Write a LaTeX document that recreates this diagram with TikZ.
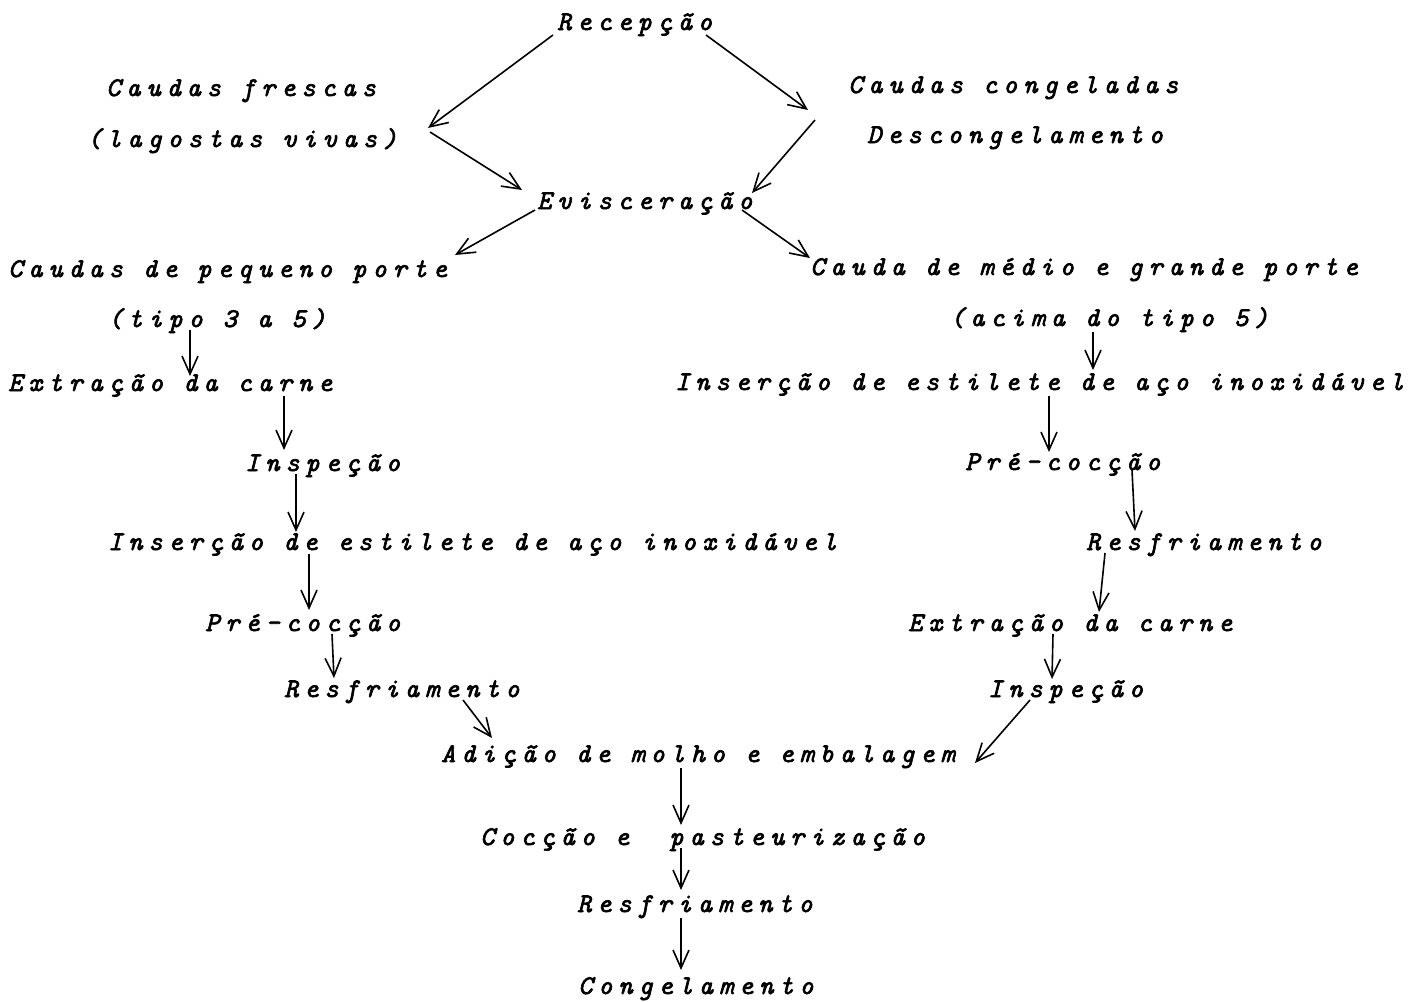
\documentclass[tikz,border=0pt]{standalone}
\usepackage{fontspec}
\usetikzlibrary{arrows.meta,calc}
\newfontfamily\twfam{lmmono10-italic.otf}[LetterSpace=22,FakeBold=2.5]
\newcommand\twfont{\twfam\fontsize{27}{32}\selectfont}
\tikzset{
  lbl/.style={inner sep=0pt, anchor=base west, font=\twfont},
  arr/.style={-{Straight Barb[length=18pt,width=16pt]}, line width=1.6pt},
}
\begin{document}
\begin{tikzpicture}[x=1pt,y=-1pt]
\useasboundingbox (0,0) rectangle (1426,1001);
\node[lbl] (rec) at (557,30) {Recepção};
\node[lbl] (fre) at (106,96) {Caudas frescas};
\node[lbl] (lag) at (87,147) {(lagostas vivas)};
\node[lbl] (con) at (848,93) {Caudas congeladas};
\node[lbl] (des) at (867,143) {Descongelamento};
\node[lbl] (evi) at (537,209) {Evisceração};
\node[lbl] (peq) at (8,277) {Caudas de pequeno porte};
\node[lbl] (tip) at (108,327) {(tipo 3 a 5)};
\node[lbl] (med) at (810,275) {Cauda de médio e grande porte};
\node[lbl] (aci) at (950,326) {(acima do tipo 5)};
\node[lbl] (extL) at (8,391) {Extração da carne};
\node[lbl] (insR) at (675,390) {Inserção de estilete de aço inoxidável};
\node[lbl] (inspL) at (245,471) {Inspeção};
\node[lbl] (preR) at (965,470) {Pré-cocção};
\node[lbl] (insL) at (108,550) {Inserção de estilete de aço inoxidável};
\node[lbl] (resR) at (1086,550) {Resfriamento};
\node[lbl] (preL) at (205,631) {Pré-cocção};
\node[lbl] (extR) at (908,631) {Extração da carne};
\node[lbl] (resL) at (284,697) {Resfriamento};
\node[lbl] (inspR) at (988,697) {Inspeção};
\node[lbl] (adi) at (441,762) {Adição de molho e embalagem};
\node[lbl] (coc) at (480,845) {Cocção e\ \ pasteurização};
\node[lbl] (res) at (577,912) {Resfriamento};
\node[lbl] (cgl) at (578,994) {Congelamento};

\draw[arr] ($(rec.base west)+(-4,5)$) -- ($(lag.base west)+(341,-19)$);
\draw[arr] ($(rec.base west)+(149,5)$) -- ($(con.base west)+(-40,17)$);
\draw[arr] ($(lag.base west)+(343,-15)$) -- ($(evi.base west)+(-15,-19)$);
\draw[arr] ($(con.base west)+(-33,27)$) -- ($(evi.base west)+(215,-16)$);
\draw[arr] ($(evi.base west)+(-2,1)$) -- ($(peq.base west)+(447,-22)$);
\draw[arr] ($(evi.base west)+(205,1)$) -- ($(med.base west)+(0,-17)$);
\draw[arr] ($(tip.base west)+(82,3)$) -- ($(extL.base west)+(182,-15)$);
\draw[arr] ($(extL.base west)+(276,5)$) -- ($(inspL.base west)+(39,-21)$);
\draw[arr] ($(inspL.base west)+(51,3)$) -- ($(insL.base west)+(188,-18)$);
\draw[arr] ($(insL.base west)+(201,4)$) -- ($(preL.base west)+(104,-21)$);
\draw[arr] ($(preL.base west)+(127,3)$) -- ($(resL.base west)+(50,-19)$);
\draw[arr] ($(resL.base west)+(179,3)$) -- ($(adi.base west)+(51,-24)$);
\draw[arr] ($(aci.base west)+(143,6)$) -- ($(insR.base west)+(418,-20)$);
\draw[arr] ($(insR.base west)+(374,6)$) -- ($(preR.base west)+(84,-18)$);
\draw[arr] ($(preR.base west)+(167,0)$) -- ($(resR.base west)+(49,-19)$);
\draw[arr] ($(resR.base west)+(19,3)$) -- ($(extR.base west)+(191,-19)$);
\draw[arr] ($(extR.base west)+(145,3)$) -- ($(inspR.base west)+(64,-18)$);
\draw[arr] ($(inspR.base west)+(42,3)$) -- ($(adi.base west)+(534,1)$);
\draw[arr] ($(adi.base west)+(240,6)$) -- ($(coc.base west)+(201,-20)$);
\draw[arr] ($(coc.base west)+(201,3)$) -- ($(res.base west)+(104,-22)$);
\draw[arr] ($(res.base west)+(104,6)$) -- ($(cgl.base west)+(103,-24)$);
\end{tikzpicture}
\end{document}
